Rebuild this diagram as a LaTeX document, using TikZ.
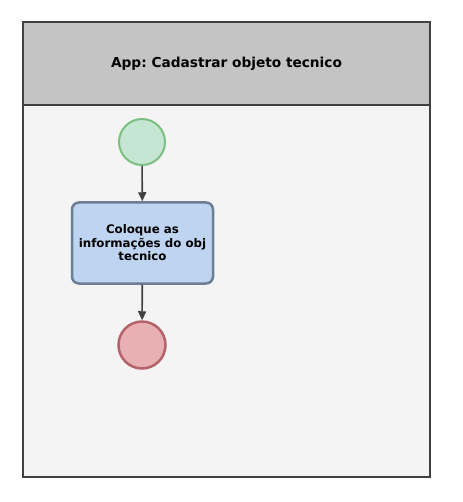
\documentclass[tikz,border=0pt]{standalone}
\usepackage{fontspec}
\setmainfont{DejaVu Sans}
\usetikzlibrary{arrows.meta,positioning}
\frenchspacing
\definecolor{lanegray}{HTML}{C4C4C4}
\definecolor{lanebody}{HTML}{F4F4F4}
\definecolor{laneline}{HTML}{404040}
\definecolor{startfill}{HTML}{C4E6D2}
\definecolor{startline}{HTML}{7DBE82}
\definecolor{taskfill}{HTML}{BED4F0}
\definecolor{taskline}{HTML}{6C7D94}
\definecolor{endfill}{HTML}{E8B0B2}
\definecolor{endline}{HTML}{B5636A}
\tikzset{
  event/.style={circle, minimum size=46pt, inner sep=0pt, line width=2pt},
  taskbox/.style={rectangle, rounded corners=7pt, draw=taskline, fill=taskfill,
    line width=2.5pt, minimum width=141pt, minimum height=81pt, align=center,
    font=\bfseries\fontsize{11.8pt}{13.5pt}\selectfont, text=black},
  flow/.style={-{Triangle[length=9pt,width=8pt]}, draw=laneline, line width=1.6pt},
}
\begin{document}
\begin{tikzpicture}[x=1pt, y=-1pt]
  \useasboundingbox (0,0) rectangle (462,502);
  % pool
  \fill[lanebody] (23,105) rectangle (430,477);
  \fill[lanegray] (23,22) rectangle (430,105);
  \draw[laneline, line width=2.5pt] (23,22) rectangle (430,477);
  \draw[laneline, line width=2.5pt] (23,105) -- (430,105);
  \node[font=\bfseries\fontsize{13.7pt}{16pt}\selectfont] (title) at (226.5,64) {App: Cadastrar objeto tecnico};
  % events and task
  \node[event, draw=startline, fill=startfill] (start) at (142,142) {};
  \node[taskbox] (task) at (142.5,243) {Coloque as\\informações do obj\\tecnico};
  \node[event, draw=endline, fill=endfill, minimum size=47pt, line width=2.5pt] (finish) at (142,345) {};
  % flows
  \draw[flow] (start) -- (task);
  \draw[flow] (task) -- (finish);
\end{tikzpicture}
\end{document}
